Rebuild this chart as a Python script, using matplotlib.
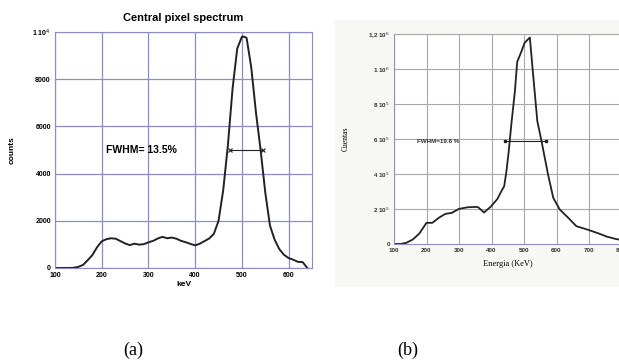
import matplotlib.pyplot as plt
from matplotlib.patches import Rectangle

# (a) central pixel spectrum
energia_a = [100, 110, 120, 130, 140, 150, 160, 170, 180, 190, 200, 210, 220, 230, 240,
             250, 260, 270, 280, 290, 300, 310, 320, 330, 340, 350, 360, 370, 380, 390,
             400, 410, 420, 430, 440, 450, 460, 470, 480, 490, 500, 505, 510, 520, 530,
             540, 550, 560, 570, 580, 590, 600, 610, 620, 630, 640]
cuentas_a = [0, 0, 0, 0, 10, 50, 130, 330, 550, 880, 1130, 1220, 1260, 1240, 1140,
             1040, 970, 1030, 990, 1010, 1090, 1150, 1250, 1320, 1260, 1290, 1240, 1150, 1090, 1020,
             960, 1030, 1140, 1250, 1450, 2000, 3300, 5200, 7600, 9300, 9800, 9800, 9750, 8500, 6600,
             5000, 3200, 1800, 1200, 800, 560, 420, 350, 260, 250, 0]
fwhm_a = [475, 545]

# (b) spectrum
energia_b = [100, 120, 138, 158, 178, 200, 218, 238, 258, 278, 300, 328, 353, 359, 377,
             398, 418, 433, 439, 446, 453, 461, 472, 479, 492, 502, 518, 528, 541, 554,
             574, 590, 610, 636, 661, 699, 730, 755, 782, 800]
cuentas_b = [0, 0, 7000, 26000, 60000, 121000, 121000, 150000, 172000, 178000, 201000, 210000, 212000, 210000, 180000,
             214000, 257000, 311000, 330000, 416000, 530000, 683000, 873000, 1040000, 1100000, 1150000, 1180000, 969000, 702000, 587000,
             397000, 264000, 197000, 150000, 102000, 80000, 60000, 42000, 29000, 22000]
fwhm_b = [441, 569]

fig = plt.figure(figsize=(6.19, 3.64), dpi=100)

# ---------- (a) ----------
azul = '#8c8cc8'
ax1 = fig.add_axes([55 / 619, 96 / 364, 257 / 619, 236 / 364])
ax1.plot(energia_a, cuentas_a, color='#222222', lw=1.4)
ax1.set_xlim(100, 650)
ax1.set_ylim(0, 10000)
ax1.set_xticks(range(100, 700, 100))
ax1.set_yticks(range(0, 12000, 2000))
ax1.set_yticklabels(['0', '2000', '4000', '6000', '8000', '1 10$^{4}$'])
ax1.grid(True, color=azul, lw=0.9)
ax1.set_axisbelow(True)
for s in ax1.spines.values():
    s.set_color(azul)
ax1.tick_params(length=0, labelsize=5, pad=3)
for t in ax1.get_xticklabels() + ax1.get_yticklabels():
    t.set_fontweight('bold')
    t.set_fontfamily('Liberation Sans')
ax1.set_title('Central pixel spectrum', fontsize=8, fontweight='bold',
              fontfamily='Liberation Sans', pad=8)
ax1.set_xlabel('keV', fontsize=6, fontweight='bold', fontfamily='Liberation Sans', labelpad=1)
ax1.set_ylabel('counts', fontsize=6, fontweight='bold', fontfamily='Liberation Sans', labelpad=12)
ax1.plot(fwhm_a, [5000, 5000], color='#222222', lw=0.8, marker='x', ms=3, mew=0.8)
ax1.text(210, 5000, 'FWHM= 13.5%', fontsize=7.5, fontweight='bold',
         fontfamily='Liberation Sans', va='center')

# ---------- (b) ----------
fig.patches.append(Rectangle((335 / 619, 77 / 364), 290 / 619, 267 / 364,
                             transform=fig.transFigure, facecolor='#f7f7f3',
                             edgecolor='none', zorder=-1))
ax2 = fig.add_axes([394 / 619, 120 / 364, 227.5 / 619, 210 / 364])
ax2.plot(energia_b, cuentas_b, color='#222222', lw=1.3)
ax2.set_xlim(100, 800)
ax2.set_ylim(0, 1.2e6)
ax2.set_xticks(range(100, 900, 100))
ax2.set_yticks([0, 2e5, 4e5, 6e5, 8e5, 1e6, 1.2e6])
ax2.set_yticklabels(['0', '2 10$^{5}$', '4 10$^{5}$', '6 10$^{5}$', '8 10$^{5}$',
                     '1 10$^{6}$', '1,2 10$^{6}$'])
ax2.grid(True, color='#a8a8a8', lw=0.8)
ax2.set_axisbelow(True)
for s in ax2.spines.values():
    s.set_color('#a8a8a8')
ax2.spines['left'].set_color('#9090c8')
ax2.spines['bottom'].set_color('#9090c8')
ax2.tick_params(length=0, labelsize=4.5, pad=3, labelcolor='#333333')
for t in ax2.get_xticklabels() + ax2.get_yticklabels():
    t.set_fontfamily('Liberation Sans')
    t.set_fontweight('bold')
ax2.set_xlabel('Energia (KeV)', fontsize=6, fontfamily='Liberation Serif', labelpad=5)
ax2.set_ylabel('Cuentas', fontsize=5.5, fontfamily='Liberation Serif', labelpad=13)
ax2.plot(fwhm_b, [5.87e5, 5.87e5], color='#222222', lw=0.8, marker='s', ms=2)
ax2.text(170, 5.87e5, 'FWHM=19.6 %', fontsize=4.5, fontweight='bold',
         fontfamily='Liberation Sans', va='center', color='#333333')

fig.text(133 / 619, 14 / 364, '(a)', fontsize=13, fontfamily='Liberation Serif',
         ha='center', va='center')
fig.text(408 / 619, 14 / 364, '(b)', fontsize=13, fontfamily='Liberation Serif',
         ha='center', va='center')

fig.savefig('out.png', dpi=100)
